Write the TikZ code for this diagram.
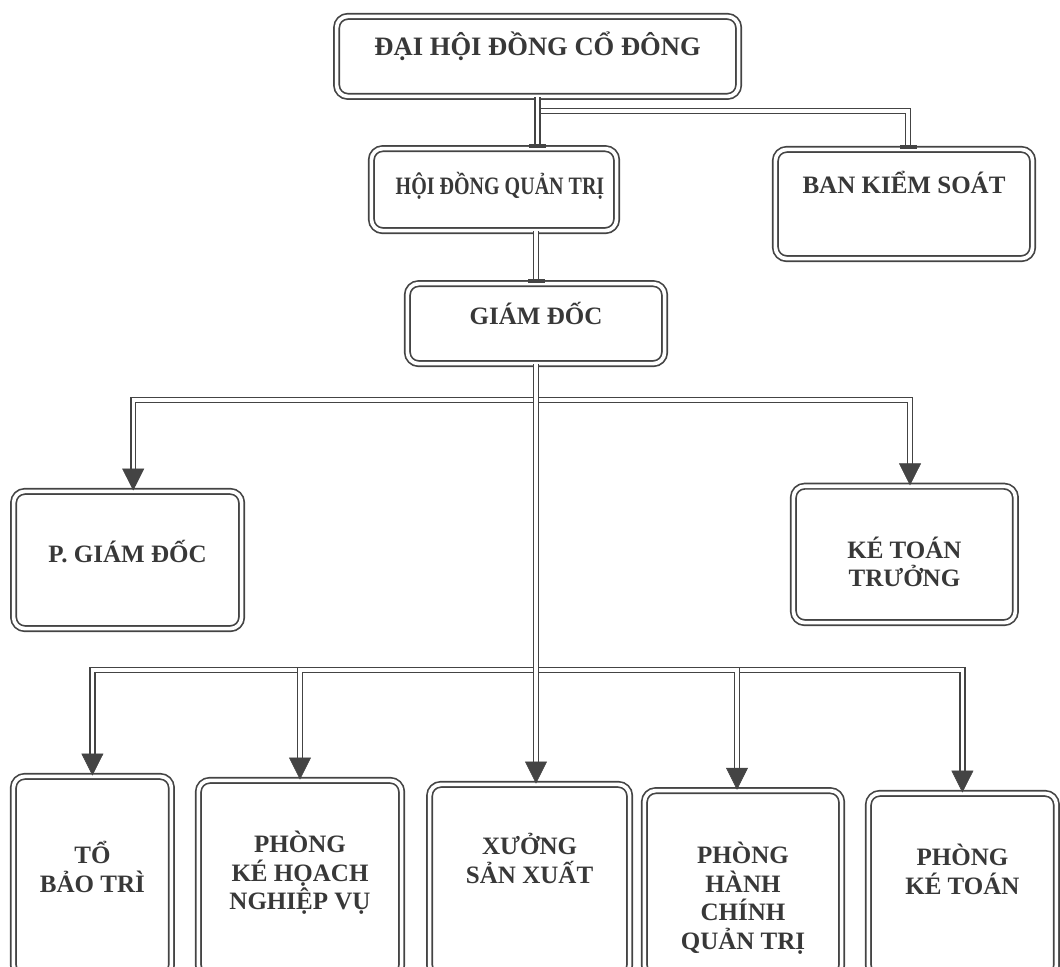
\documentclass[tikz,border=0pt]{standalone}
\usepackage{fontspec}
\setmainfont{Liberation Serif}
\usetikzlibrary{arrows.meta,positioning}
\definecolor{ocLine}{HTML}{444444}
\definecolor{ocText}{HTML}{383838}
\newcommand{\ocfont}{\fontsize{17.8}{20.3}\selectfont\bfseries}
\tikzset{
  oc/.style={line join=miter},
  box/.style={draw=ocLine, double=white, double distance=2.6pt, line width=1.2pt, rounded corners=8pt,
              align=center, font=\ocfont, text=ocText, inner sep=0pt, text height=0.414cm},
  link/.style={draw=ocLine, double=white, double distance=2.4pt, line width=1.05pt},
  arr/.style={-{Triangle[length=0.55cm, width=0.55cm, line width=0.4pt]}},
  tee/.style={-{Rectangle[length=0.09cm, width=0.42cm, line width=0.4pt]}},
}
\begin{document}
\begin{tikzpicture}[oc]
\useasboundingbox (0,0) rectangle (26.5,-24.15);
\clip (0,0) rectangle (26.5,-24.15);

% top levels
\node[box, minimum width=10.05cm, minimum height=2.0cm, text depth=0.48cm, font=\fontsize{18.9}{21}\selectfont\bfseries] (dhdcd) at (13.44,-1.41) {ĐẠI HỘI ĐỒNG CỔ ĐÔNG};
\node[box, minimum width=6.13cm, minimum height=2.05cm, text depth=0.15cm] (hdqt) at (12.35,-4.74) {\hspace{0.3cm}\scalebox{0.8}[1]{HỘI ĐỒNG QUẢN TRỊ}};
\node[box, minimum width=6.43cm, minimum height=2.73cm, text depth=0.95cm] (bks) at (22.6,-5.1) {BAN KIỂM SOÁT};
\node[box, minimum width=6.43cm, minimum height=2.0cm, text depth=0.36cm] (gd) at (13.4,-8.09) {GIÁM ĐỐC};

% second row
\node[box, minimum width=5.7cm, minimum height=3.43cm, text depth=0.3cm] (pgd) at (3.19,-14.0) {P. GIÁM ĐỐC};
\node[box, minimum width=5.55cm, minimum height=3.41cm, text height=1.62cm, text depth=0cm] (ktt) at (22.61,-13.86) {KÉ TOÁN\\TRƯỞNG};

% departments
\node[box, minimum width=3.95cm, minimum height=5.0cm, text height=1.13cm, text depth=0.34cm] (tbt) at (2.31,-21.91) {TỔ\\BẢO TRÌ};
\node[box, minimum width=5.08cm, minimum height=4.9cm, text height=1.85cm, text depth=0.28cm] (pkh) at (7.5,-21.96) {PHÒNG\\KÉ HỌACH\\NGHIỆP VỤ};
\node[box, minimum width=5.0cm, minimum height=4.8cm, text height=1.13cm, text depth=0.98cm] (xsx) at (13.24,-22.01) {XƯỞNG\\SẢN XUẤT};
\node[box, minimum width=4.93cm, minimum height=4.65cm, text height=3.38cm, text depth=0.1cm] (phc) at (18.575,-22.09) {PHÒNG\\HÀNH\\CHÍNH\\QUẢN TRỊ};
\node[box, minimum width=4.7cm, minimum height=4.58cm, text height=1.13cm, text depth=0.68cm] (pkt) at (24.06,-22.125) {PHÒNG\\KÉ TOÁN};

\coordinate (bus1) at (13.4,-10.0);
\coordinate (bus2) at (13.4,-16.75);

% connectors
\draw[link, tee] (dhdcd.south) -- ++(0,-0.34) -| ([xshift=0.1cm]bks.north);
\draw[link, tee] (dhdcd.south) -- (dhdcd.south |- hdqt.north);
\draw[link, tee] (gd.north |- hdqt.south) -- (gd.north);
\draw[link, arr] (gd.south) -- (bus1) -| ([xshift=0.14cm]pgd.north);
\draw[link, arr] (gd.south) -- (bus1) -| ([xshift=0.14cm]ktt.north);
\foreach \n in {tbt,pkh,pkt} \draw[link, arr] (gd.south) -- (bus2) -| (\n.north);
\draw[link, arr] (gd.south) -- (bus2) -| ([xshift=-0.15cm]phc.north);
\draw[link, arr] (gd.south) -- (gd.south |- xsx.north);
\end{tikzpicture}
\end{document}
